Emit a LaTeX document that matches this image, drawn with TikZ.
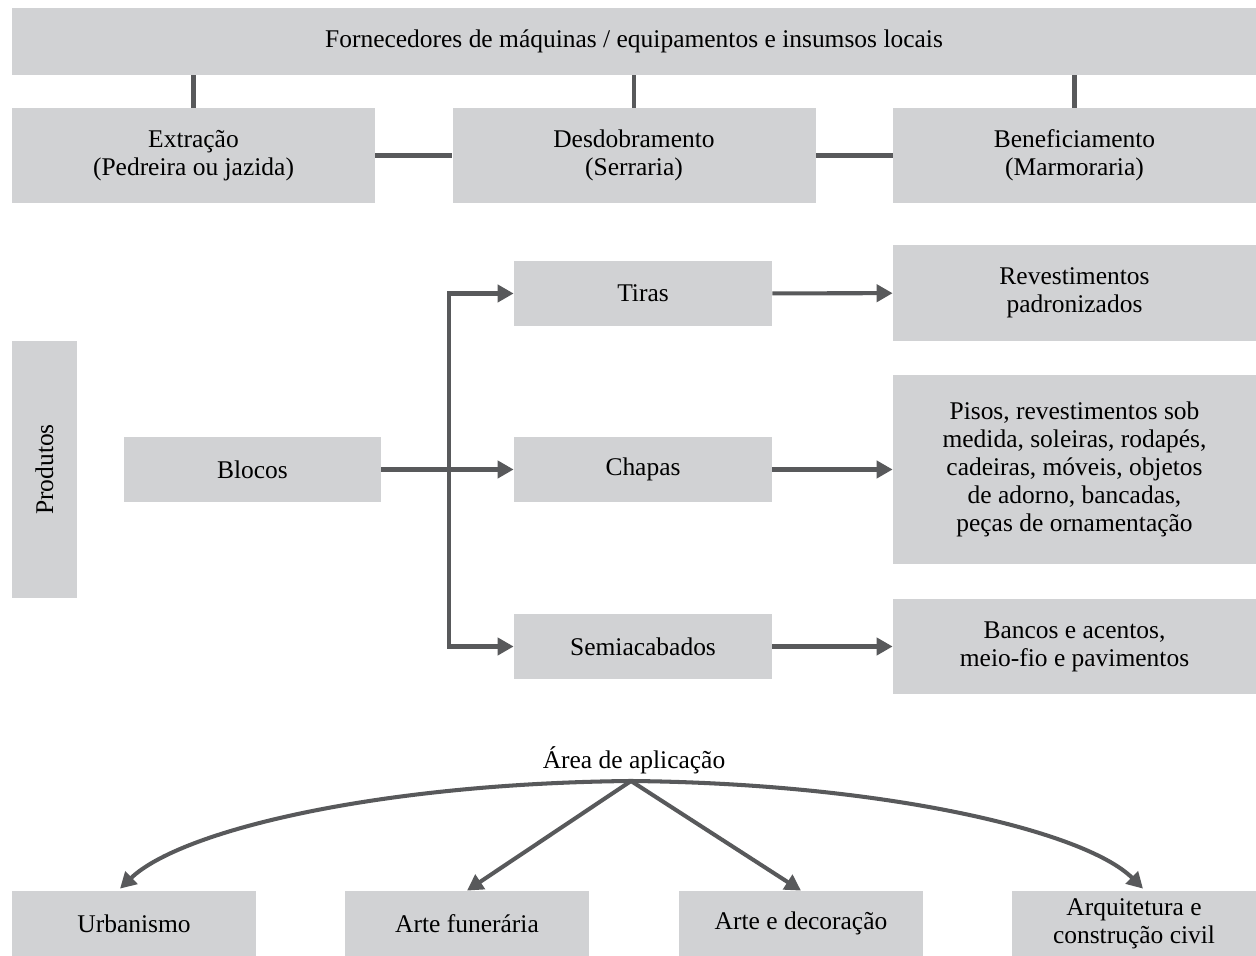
\documentclass[tikz,border=0pt]{standalone}
\usepackage{fontspec}
\setmainfont{Liberation Serif}
\usetikzlibrary{arrows.meta}
\definecolor{boxgray}{HTML}{D1D2D4}
\definecolor{linegray}{HTML}{58595B}
\begin{document}
\begin{tikzpicture}[
        box/.style={fill=boxgray, inner sep=0pt, align=center, font=\fontsize{14.5}{16}\selectfont},
        conn/.style={draw=linegray, line width=2.3pt},
        arr/.style={conn, -{Triangle[length=0.32cm, width=0.34cm]}}]
        \useasboundingbox (0,0) rectangle (25.12,19.12);

        \node[box, minimum width=24.88cm, minimum height=1.34cm] (top) at (12.68,18.29) {Fornecedores de máquinas / equipamentos e insumsos locais};

        \node[box, minimum width=7.26cm, minimum height=1.9cm] (extr) at (3.87,16.01) {Extração\\(Pedreira ou jazida)};
        \node[box, minimum width=7.26cm, minimum height=1.9cm] (desd) at (12.68,16.01) {Desdobramento\\(Serraria)};
        \node[box, minimum width=7.26cm, minimum height=1.9cm] (benef) at (21.49,16.01) {Beneficiamento\\(Marmoraria)};

        \draw[conn] (top.south -| extr.north) -- (extr.north);
        \draw[conn] (top.south -| desd.north) -- (desd.north);
        \draw[conn] (top.south -| benef.north) -- (benef.north);
        \draw[conn] (extr) -- (desd);
        \draw[conn] (desd) -- (benef);

        \node[box, minimum width=1.3cm, minimum height=5.14cm] (prod) at (0.89,9.73) {\rotatebox{90}{Produtos}};
        \node[box, minimum width=5.14cm, minimum height=1.3cm] (blocos) at (5.05,9.73) {Blocos};

        \node[box, minimum width=5.16cm, minimum height=1.3cm] (tiras) at (12.86,13.25) {Tiras};
        \node[box, minimum width=5.16cm, minimum height=1.3cm] (chapas) at (12.86,9.73) {Chapas};
        \node[box, minimum width=5.16cm, minimum height=1.3cm] (semi) at (12.86,6.19) {Semiacabados};

        \node[box, minimum width=7.26cm, minimum height=1.92cm] (rev) at (21.49,13.26) {Revestimentos\\padronizados};
        \node[box, minimum width=7.26cm, minimum height=3.78cm] (pisos) at (21.49,9.73) {Pisos, revestimentos sob\\medida, soleiras, rodapés,\\cadeiras, móveis, objetos\\de adorno, bancadas,\\peças de ornamentação};
        \node[box, minimum width=7.26cm, minimum height=1.9cm] (bancos) at (21.49,6.19) {Bancos e acentos,\\meio-fio e pavimentos};

        \coordinate (split) at (8.98,9.73);
        \draw[arr] (blocos) -- (chapas);
        \draw[arr] (split) |- (tiras);
        \draw[arr] (split) |- (semi);
        \draw[arr] (tiras) -- (rev);
        \draw[arr] (chapas) -- (pisos);
        \draw[arr] (semi) -- (bancos);

        \node[font=\fontsize{14.5}{16}\selectfont, inner sep=0pt] (area) at (12.68,3.92) {Área de aplicação};
        \coordinate (apex) at (12.62,3.5);

        \node[box, minimum width=4.88cm, minimum height=1.3cm] (urb) at (2.68,0.65) {Urbanismo};
        \node[box, minimum width=4.88cm, minimum height=1.3cm] (fun) at (9.34,0.65) {Arte funerária};
        \node[box, minimum width=4.88cm, minimum height=1.3cm] (dec) at (16.02,0.65) {Arte e decoração};
        \node[box, minimum width=4.88cm, minimum height=1.3cm] (arq) at (22.68,0.65) {Arquitetura e\\construção civil};

        \draw[arr] (apex) .. controls (7.5,3.45) and (3.6,2.5) .. ([xshift=-0.28cm, yshift=0.04cm]urb.north);
        \draw[arr] (apex) -- (fun.north);
        \draw[arr] (apex) -- (dec.north);
        \draw[arr] (apex) .. controls (17.7,3.45) and (21.7,2.5) .. ([xshift=0.18cm, yshift=0.04cm]arq.north);
\end{tikzpicture}
\end{document}
